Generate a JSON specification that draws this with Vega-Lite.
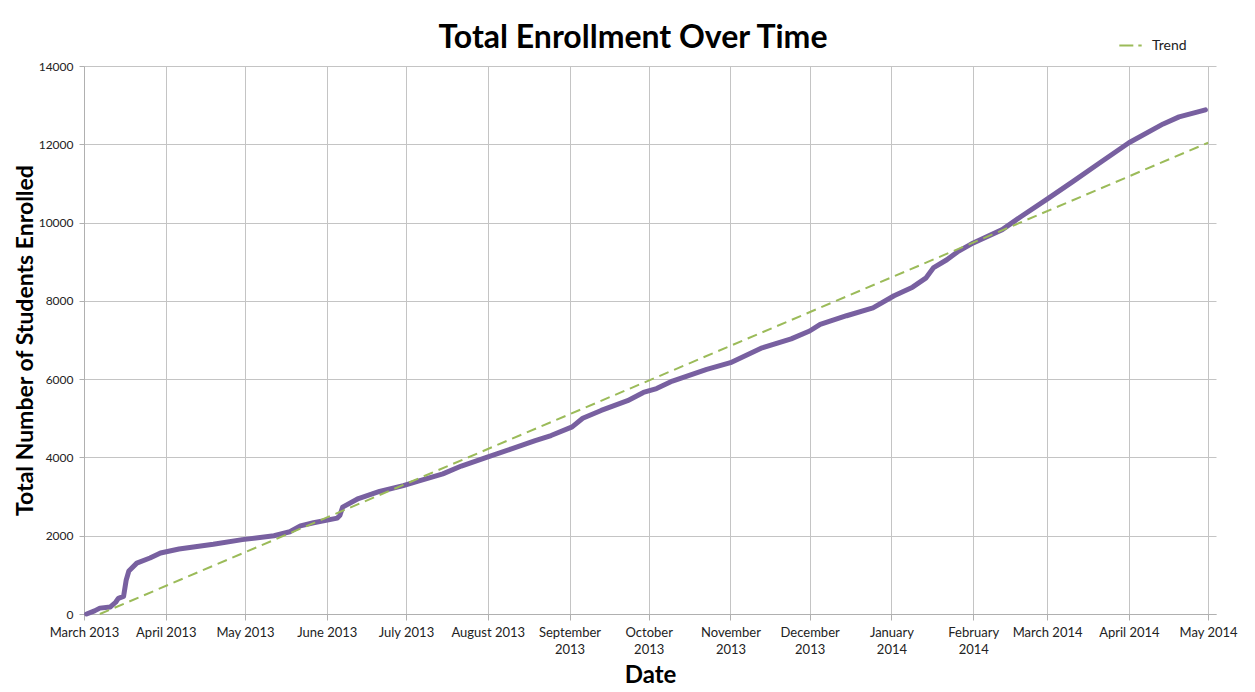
{
  "$schema": "https://vega.github.io/schema/vega-lite/v6.json",
  "autosize": {"type": "none"},
  "padding": {"left": 84, "top": 66, "right": 39, "bottom": 78},
  "width": 1132,
  "height": 548,
  "background": "white",
  "title": {
    "text": "Total Enrollment Over Time",
    "font": "Lato",
    "fontSize": 32,
    "fontWeight": "bold",
    "color": "#000000",
    "anchor": "middle",
    "frame": "group",
    "dx": -17,
    "dy": 63,
    "offset": 16,
    "baseline": "alphabetic"
  },
  "config": {
    "view": {"stroke": null},
    "font": "Lato",
    "axis": {
      "gridColor": "#c4c4c4",
      "gridWidth": 1,
      "domainColor": "#b0b0b0",
      "tickColor": "#b0b0b0",
      "labelColor": "#222222",
      "labelFont": "Lato",
      "titleFont": "Lato",
      "titleColor": "#000000",
      "titleFontWeight": "bold"
    }
  },
  "datasets": {
    "enroll": [
      {"date": "2013-03-02T00:00:00", "total": 0},
      {"date": "2013-03-05T00:00:00", "total": 80},
      {"date": "2013-03-07T00:00:00", "total": 150},
      {"date": "2013-03-11T00:00:00", "total": 180},
      {"date": "2013-03-13T00:00:00", "total": 300},
      {"date": "2013-03-14T00:00:00", "total": 400},
      {"date": "2013-03-16T00:00:00", "total": 450},
      {"date": "2013-03-17T00:00:00", "total": 870},
      {"date": "2013-03-18T00:00:00", "total": 1100},
      {"date": "2013-03-21T00:00:00", "total": 1300},
      {"date": "2013-03-26T00:00:00", "total": 1430},
      {"date": "2013-03-30T00:00:00", "total": 1560},
      {"date": "2013-04-06T00:00:00", "total": 1660},
      {"date": "2013-04-19T00:00:00", "total": 1780},
      {"date": "2013-04-30T00:00:00", "total": 1900},
      {"date": "2013-05-12T00:00:00", "total": 2000},
      {"date": "2013-05-18T00:00:00", "total": 2100},
      {"date": "2013-05-22T00:00:00", "total": 2250},
      {"date": "2013-05-27T00:00:00", "total": 2330},
      {"date": "2013-06-05T00:00:00", "total": 2450},
      {"date": "2013-06-06T00:00:00", "total": 2520},
      {"date": "2013-06-07T00:00:00", "total": 2730},
      {"date": "2013-06-13T00:00:00", "total": 2950},
      {"date": "2013-06-21T00:00:00", "total": 3130},
      {"date": "2013-06-30T00:00:00", "total": 3280},
      {"date": "2013-07-06T00:00:00", "total": 3400},
      {"date": "2013-07-15T00:00:00", "total": 3580},
      {"date": "2013-07-22T00:00:00", "total": 3780},
      {"date": "2013-07-31T00:00:00", "total": 3990},
      {"date": "2013-08-10T00:00:00", "total": 4220},
      {"date": "2013-08-19T00:00:00", "total": 4430},
      {"date": "2013-08-25T00:00:00", "total": 4560},
      {"date": "2013-09-02T00:00:00", "total": 4780},
      {"date": "2013-09-06T00:00:00", "total": 5000},
      {"date": "2013-09-13T00:00:00", "total": 5200},
      {"date": "2013-09-23T00:00:00", "total": 5450},
      {"date": "2013-09-29T00:00:00", "total": 5660},
      {"date": "2013-10-04T00:00:00", "total": 5760},
      {"date": "2013-10-10T00:00:00", "total": 5950},
      {"date": "2013-10-23T00:00:00", "total": 6250},
      {"date": "2013-11-01T00:00:00", "total": 6420},
      {"date": "2013-11-13T00:00:00", "total": 6800},
      {"date": "2013-11-24T00:00:00", "total": 7030},
      {"date": "2013-12-01T00:00:00", "total": 7230},
      {"date": "2013-12-05T00:00:00", "total": 7400},
      {"date": "2013-12-15T00:00:00", "total": 7620},
      {"date": "2013-12-25T00:00:00", "total": 7820},
      {"date": "2014-01-02T00:00:00", "total": 8130},
      {"date": "2014-01-09T00:00:00", "total": 8350},
      {"date": "2014-01-14T00:00:00", "total": 8580},
      {"date": "2014-01-17T00:00:00", "total": 8850},
      {"date": "2014-01-22T00:00:00", "total": 9050},
      {"date": "2014-01-26T00:00:00", "total": 9250},
      {"date": "2014-02-01T00:00:00", "total": 9480},
      {"date": "2014-02-12T00:00:00", "total": 9820},
      {"date": "2014-02-19T00:00:00", "total": 10150},
      {"date": "2014-03-01T00:00:00", "total": 10600},
      {"date": "2014-03-11T00:00:00", "total": 11060},
      {"date": "2014-03-21T00:00:00", "total": 11530},
      {"date": "2014-04-01T00:00:00", "total": 12040},
      {"date": "2014-04-14T00:00:00", "total": 12520},
      {"date": "2014-04-20T00:00:00", "total": 12700},
      {"date": "2014-04-30T00:00:00", "total": 12880}
    ],
    "trend": [
      {"date": "2013-03-07T00:00:00", "total": 0, "series": "Trend"},
      {"date": "2014-05-01T00:00:00", "total": 12040, "series": "Trend"}
    ]
  },
  "encoding": {
    "x": {
      "field": "date",
      "type": "temporal",
      "scale": {
        "domain": [
          {"year": 2013, "month": 3, "date": 1},
          {"year": 2014, "month": 5, "date": 4}
        ]
      },
      "axis": {
        "title": "Date",
        "titleFontSize": 24,
        "titlePadding": 7,
        "tickCount": {"interval": "month", "step": 1},
        "grid": true,
        "tickSize": 6,
        "labelFontSize": 13,
        "labelPadding": 6,
        "labelLineHeight": 17,
        "labelOverlap": false,
        "labelFlush": false,
        "labelExpr": "(month(datum.value) >= 8 || (year(datum.value) == 2014 && month(datum.value) <= 1)) ? [timeFormat(datum.value, '%B'), timeFormat(datum.value, '%Y')] : timeFormat(datum.value, '%B %Y')"
      }
    },
    "y": {
      "field": "total",
      "type": "quantitative",
      "scale": {"domain": [0, 14000], "nice": false},
      "axis": {
        "title": "Total Number of Students Enrolled",
        "titleFontSize": 23,
        "titlePadding": 1,
        "values": [0, 2000, 4000, 6000, 8000, 10000, 12000, 14000],
        "format": "d",
        "grid": true,
        "tickSize": 5,
        "labelFontSize": 12,
        "labelPadding": 6
      }
    }
  },
  "layer": [
    {
      "data": {"name": "enroll"},
      "mark": {"type": "line", "color": "#7860a0", "strokeWidth": 5, "strokeCap": "round", "strokeJoin": "round"}
    },
    {
      "data": {"name": "trend"},
      "mark": {"type": "line", "strokeWidth": 2, "strokeDash": [10, 6]},
      "encoding": {
        "color": {
          "field": "series",
          "type": "nominal",
          "scale": {"domain": ["Trend"], "range": ["#9bbb59"]},
          "legend": {
            "title": null,
            "orient": "none",
            "legendX": 1034,
            "legendY": -33,
            "symbolType": "stroke",
            "symbolStrokeWidth": 2,
            "symbolDash": [14, 5],
            "symbolSize": 500,
            "labelOffset": 9,
            "labelFontSize": 14,
            "labelColor": "#222222",
            "labelFont": "Lato"
          }
        }
      }
    }
  ]
}
